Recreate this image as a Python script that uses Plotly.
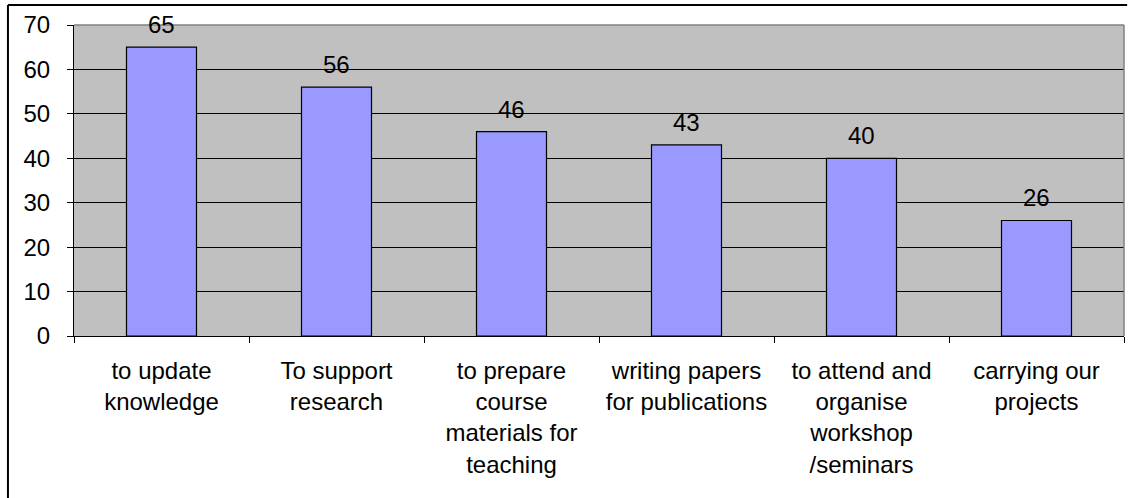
import plotly.graph_objects as go

# Survey responses: purposes of use
categories = [
    "to update<br>knowledge",
    "To support<br>research",
    "to prepare<br>course<br>materials for<br>teaching",
    "writing papers<br>for publications",
    "to attend and<br>organise<br>workshop<br>/seminars",
    "carrying our<br>projects",
]
values = [65, 56, 46, 43, 40, 26]
y_ticks = [0, 10, 20, 30, 40, 50, 60, 70]

FONT = "Arial, Liberation Sans, sans-serif"
FS = 24

fig = go.Figure(
    go.Bar(
        x=categories,
        y=values,
        width=0.4,
        marker=dict(color="#9999FF", line=dict(color="#000000", width=1.2)),
        hoverinfo="skip",
    )
)

# value labels above each bar
for c, v in zip(categories, values):
    fig.add_annotation(
        x=c, y=v, text=str(v), showarrow=False,
        yanchor="bottom", yshift=7,
        font=dict(family=FONT, size=FS, color="#000000"),
    )

# plot-area frame (top/right in grey) and outer chart border
fig.add_shape(type="line", xref="paper", yref="paper", x0=0, x1=1, y0=1, y1=1,
              line=dict(color="#808080", width=1.5))
fig.add_shape(type="line", xref="paper", yref="paper", x0=1, x1=1, y0=0, y1=1,
              line=dict(color="#808080", width=1.5))
fig.add_shape(type="line", xref="paper", yref="paper", x0=-0.0629, x1=1.003,
              y0=1.0643, y1=1.0643, line=dict(color="#000000", width=2))
fig.add_shape(type="line", xref="paper", yref="paper", x0=-0.0629, x1=-0.0629,
              y0=1.0643, y1=-0.6, line=dict(color="#000000", width=2))

fig.update_layout(
    width=1131, height=498,
    margin=dict(l=74, r=7, t=25, b=162),
    paper_bgcolor="#FFFFFF",
    plot_bgcolor="#C0C0C0",
    showlegend=False,
    font=dict(family=FONT, size=FS, color="#000000"),
    bargap=0.6,
)
fig.update_xaxes(
    type="category",
    showline=True, linecolor="#000000", linewidth=1.2,
    ticks="outside", tickson="boundaries", ticklen=6, tickcolor="#000000",
    tickwidth=1, showgrid=False,
    tickfont=dict(family=FONT, size=FS, color="#000000"),
    ticklabelstandoff=13,
)
fig.update_yaxes(
    range=[0, 70], tickvals=y_ticks,
    showline=True, linecolor="#000000", linewidth=1.2,
    ticks="outside", ticklen=6, tickcolor="#000000", tickwidth=1,
    showgrid=True, gridcolor="#000000", gridwidth=1,
    zeroline=False,
    tickfont=dict(family=FONT, size=FS, color="#000000"),
    ticklabelstandoff=12,
)

fig.write_html("out.html")
